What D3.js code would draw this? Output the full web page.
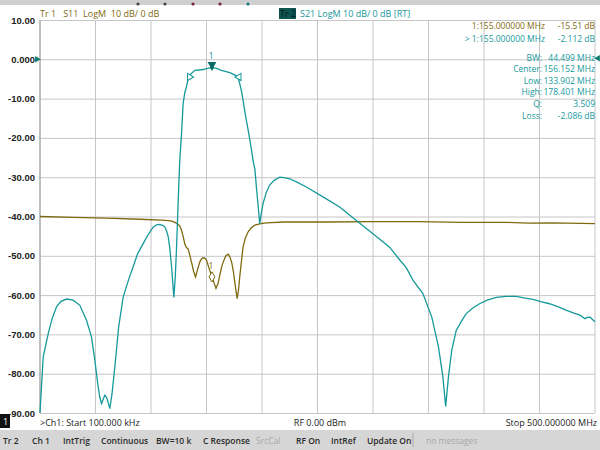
<!DOCTYPE html>
<html>
<head>
<meta charset="utf-8">
<script src="https://cdn.jsdelivr.net/npm/d3@7"></script>
<style>
  body { margin: 0; background: #fff; }
  svg { display: block; font-family: "Open Sans", "DejaVu Sans", sans-serif; }
</style>
</head>
<body>
<svg width="600" height="450"></svg>
<script>
// S21 trace (MHz, dB)
const s21Freq = [0.1, 1.5, 3, 7.5, 11, 15, 19, 24, 30, 36, 42, 46.5, 49.5, 51, 52.5, 54, 55.5, 57, 58.5, 60, 61, 63, 65, 67.5, 71, 75, 80, 84, 88, 93, 98, 102, 105, 108, 111, 112.6, 114, 115.6, 117, 118.6, 120.7, 122, 123, 124.6, 126, 127.6, 129, 130.5, 132, 133.9, 135, 139.6, 147, 151, 155, 159, 163.6, 171, 175, 178.4, 180, 181.5, 183, 185, 187.6, 190, 192, 193.7, 195, 196.5, 198, 199.5, 201, 204, 207, 211, 216, 220, 225, 232, 240, 255, 270, 285, 300, 315, 324, 330, 336, 345, 353, 359, 363, 365.5, 368, 371, 375, 380, 384, 390, 396, 403, 411, 420, 429, 436, 444, 452, 459, 467, 474.5, 481, 486.5, 491, 493, 495.5, 497, 500];
const s21Db = [-90, -83, -75.7, -69.8, -66, -63, -61.6, -61, -61.3, -62.6, -66.4, -70.7, -76.6, -80, -83.4, -86, -87.6, -86.5, -85.5, -86, -86.8, -88.9, -85, -78.3, -68, -60.5, -56, -52.8, -49.5, -46.9, -44.4, -42.7, -42.1, -42, -42.3, -42.7, -43.6, -45.2, -48, -52.8, -60.6, -55, -48.6, -35.9, -25.7, -18.9, -11.3, -8.5, -7, -4.5, -4, -2.8, -2.6, -2.3, -2.11, -2.3, -2.8, -3.4, -3.9, -4.5, -6.2, -8, -10.4, -14, -18, -22, -25.7, -28, -32.5, -37, -41.8, -39, -36.7, -33.8, -32, -30.8, -30, -30.1, -30.4, -31.3, -32.5, -35, -37.6, -41, -44.4, -47.8, -51, -53, -56.2, -59.6, -65.6, -73.2, -80.8, -88.3, -80.8, -74, -69, -66.5, -64.7, -63.3, -62.2, -61.3, -60.6, -60.3, -60.3, -60.7, -61.1, -61.7, -62.2, -63, -63.9, -64.6, -65.1, -66, -65.7, -65.6, -66, -66.8];

// S11 trace (MHz, dB)
const s11Freq = [0.1, 30, 60, 90, 110, 118, 121.6, 124, 126, 127.6, 129, 130.6, 132, 133.6, 135.2, 136.7, 138.5, 140.2, 142, 144, 145.5, 147, 148.5, 150, 153, 156, 158.6, 160.5, 162, 164, 165.8, 167.5, 169.6, 171, 172.7, 174.3, 175.7, 177.7, 179, 180, 181.5, 183, 185, 187.6, 190, 193.7, 199, 204, 220, 260, 300, 340, 380, 420, 440, 460, 500];
const s11Db = [-40, -40.2, -40.4, -40.7, -40.9, -41.1, -41.5, -41.9, -42.4, -43.5, -45, -47.1, -47.9, -48.3, -50, -51.8, -54, -55.4, -53.5, -51.6, -50.8, -50.5, -50.6, -51.1, -53.7, -56.2, -58.3, -57, -55, -52.5, -51.1, -50, -49.6, -50.2, -51.6, -54, -57.1, -60.9, -58.5, -55.4, -51.5, -47.8, -45.5, -43.9, -43, -42.2, -41.8, -41.6, -41.4, -41.4, -41.3, -41.3, -41.5, -41.5, -41.7, -41.6, -41.8];

const yTickValues = [10, 0, -10, -20, -30, -40, -50, -60, -70, -80, -90];
const yTickLabels = ["10.00", "0.000", "-10.00", "-20.00", "-30.00", "-40.00", "-50.00", "-60.00", "-70.00", "-80.00", "-90.00"];

const markerRows = [
  ["1:155.000000 MHz", "-15.51 dB", "s11"],
  ["> 1:155.000000 MHz", "-2.112 dB", "s21"]
];
const bwLabels = ["BW:", "Center:", "Low:", "High:", "Q:", "Loss:"];
const bwValues = ["44.499 MHz", "156.152 MHz", "133.902 MHz", "178.401 MHz", "3.509", "-2.086 dB"];
const bwMarkerFreq = [133.902, 178.401];
const markerFreq = 155;

const statusItems = ["Tr 2", "Ch 1", "IntTrig", "Continuous", "BW=10 k", "C Response", "SrcCal", "RF On", "IntRef", "Update On", "no messages"];
const statusX = [3, 32, 63, 101, 156, 203, 256, 296, 331, 367, 426];

const teal = "#16999a";
const olive = "#7f6a10";

const svg = d3.select("svg");
const plotLeft = 40, plotRight = 595, plotTop = 20, plotBottom = 413;

const x = d3.scaleLinear().domain([0.1, 500]).range([plotLeft, plotRight]);
const y = d3.scaleLinear().domain([-90, 10]).range([plotBottom, plotTop]);

// top strip
svg.append("rect").attr("x", 0).attr("y", 0).attr("width", 600).attr("height", 5).attr("fill", "#cfcfcf");
const dotX = [138, 165, 193, 220, 248];
const dotC = ["#444", "#444", "#7a2040", "#7a2040", "#167a7a"];
svg.selectAll(".dot").data(dotX).enter().append("circle")
  .attr("cx", d => d).attr("cy", 4).attr("r", 1.6)
  .attr("fill", (d, i) => dotC[i]);

// grid
const gridF = d3.range(11).map(i => 0.1 + i * (500 - 0.1) / 10);
svg.append("g").selectAll("line").data(gridF).enter().append("line")
  .attr("x1", d => x(d)).attr("x2", d => x(d))
  .attr("y1", plotTop).attr("y2", plotBottom)
  .attr("stroke", "#c6c6c6").attr("stroke-width", 1);

const yAxis = d3.axisLeft(y).tickValues(yTickValues)
  .tickSize(-(plotRight - plotLeft)).tickPadding(5)
  .tickFormat((d, i) => yTickLabels[i]);
const yg = svg.append("g").attr("transform", `translate(${plotLeft},0)`).call(yAxis);
yg.select(".domain").remove();
yg.selectAll(".tick line").attr("stroke", "#c6c6c6");
yg.selectAll(".tick text").attr("fill", "#222").attr("font-size", 9.5).attr("font-weight", 600);

// left plot border
svg.append("line").attr("x1", plotLeft).attr("x2", plotLeft).attr("y1", plotTop).attr("y2", plotBottom)
  .attr("stroke", "#9a9a9a");

// traces
const line = d3.line().x(d => x(d[0])).y(d => y(d[1]));
svg.append("path").datum(d3.zip(s11Freq, s11Db))
  .attr("d", line).attr("fill", "none").attr("stroke", olive).attr("stroke-width", 1.3);
svg.append("path").datum(d3.zip(s21Freq, s21Db))
  .attr("d", line).attr("fill", "none").attr("stroke", teal).attr("stroke-width", 1.3);

// reference arrows
svg.append("path").attr("d", d3.symbol(d3.symbolTriangle, 18)())
  .attr("transform", `translate(${plotLeft - 3},${y(0)}) rotate(90)`).attr("fill", "#0f7a70");
svg.append("path").attr("d", d3.symbol(d3.symbolTriangle, 18)())
  .attr("transform", `translate(${plotRight + 3},${y(0) - 1}) rotate(-90)`).attr("fill", "#0f7a70");

// markers
const interp = (fs, ds, f) => {
  const i = d3.bisectLeft(fs, f);
  const t = (f - fs[i - 1]) / (fs[i] - fs[i - 1]);
  return ds[i - 1] + t * (ds[i] - ds[i - 1]);
};
const m21 = -2.112;
svg.append("path").attr("d", d3.symbol(d3.symbolTriangle, 34)())
  .attr("transform", `translate(${x(markerFreq)},${y(m21) - 3}) rotate(180)`)
  .attr("fill", "#0c6b66");
svg.append("path").attr("d", d3.symbol(d3.symbolDiamond, 14)())
  .attr("transform", `translate(${x(markerFreq)},${y(m21)})`)
  .attr("fill", "#0c6b66");
svg.append("text").attr("x", x(markerFreq) - 1).attr("y", y(m21) - 9)
  .attr("fill", teal).attr("font-size", 9).attr("text-anchor", "middle").text("1");

bwMarkerFreq.forEach((f, i) => {
  svg.append("path").attr("d", d3.symbol(d3.symbolTriangle, 22)())
    .attr("transform", `translate(${x(f) + 1},${y(interp(s21Freq, s21Db, f))}) rotate(${i ? 30 : -30})`)
    .attr("fill", "#fff").attr("stroke", teal).attr("stroke-width", 1);
});

const m11 = interp(s11Freq, s11Db, markerFreq);
svg.append("path").attr("d", d3.symbol(d3.symbolDiamond, 30)())
  .attr("transform", `translate(${x(markerFreq)},${y(m11)})`)
  .attr("fill", "#fff").attr("stroke", olive).attr("stroke-width", 1);
svg.append("text").attr("x", x(markerFreq) - 1).attr("y", y(m11) - 8)
  .attr("fill", olive).attr("font-size", 8.5).attr("text-anchor", "middle").text("1");

// trace headers
svg.append("text").attr("x", 40).attr("y", 17).attr("font-size", 9).attr("fill", olive)
  .attr("xml:space", "preserve").text("Tr 1   S11  LogM  10 dB/ 0 dB");
svg.append("rect").attr("x", 279).attr("y", 8).attr("width", 17).attr("height", 11).attr("fill", "#0d5450");
svg.append("text").attr("x", 280).attr("y", 17).attr("font-size", 9).attr("fill", "#031c1a").text("Tr 2");
svg.append("text").attr("x", 300).attr("y", 17).attr("font-size", 9).attr("fill", teal)
  .text("S21 LogM  10 dB/ 0 dB [RT]");

// marker readout
const rowY = [29, 42];
markerRows.forEach((r, i) => {
  const c = r[2] === "s11" ? olive : teal;
  svg.append("text").attr("x", 545).attr("y", rowY[i]).attr("text-anchor", "end")
    .attr("font-size", 8.5).attr("fill", c).text(r[0]);
  svg.append("text").attr("x", 595).attr("y", rowY[i]).attr("text-anchor", "end")
    .attr("font-size", 8.5).attr("fill", c).text(r[1]);
});
const bwY = [61, 72, 84, 95, 107, 119];
bwLabels.forEach((l, i) => {
  svg.append("text").attr("x", 542).attr("y", bwY[i]).attr("text-anchor", "end")
    .attr("font-size", 8.5).attr("fill", teal).text(l);
  svg.append("text").attr("x", 595).attr("y", bwY[i]).attr("text-anchor", "end")
    .attr("font-size", 8.5).attr("fill", teal).text(bwValues[i]);
});

// channel line
svg.append("rect").attr("x", 0).attr("y", 414).attr("width", 10).attr("height", 14).attr("fill", "#111");
svg.append("text").attr("x", 3).attr("y", 425).attr("font-size", 9).attr("fill", "#fff").text("1");
svg.append("text").attr("x", 40).attr("y", 426).attr("font-size", 9).attr("fill", "#222").text(">Ch1: Start 100.000 kHz");
svg.append("text").attr("x", 320).attr("y", 426).attr("font-size", 9).attr("fill", "#222").attr("text-anchor", "middle").text("RF 0.00 dBm");
svg.append("text").attr("x", 597).attr("y", 426).attr("font-size", 9).attr("fill", "#222").attr("text-anchor", "end").text("Stop 500.000000 MHz");

// status bar
svg.append("rect").attr("x", 0).attr("y", 430).attr("width", 600).attr("height", 20).attr("fill", "#d6d6d6");
svg.selectAll(".status").data(statusItems).enter().append("text")
  .attr("x", (d, i) => statusX[i]).attr("y", 444)
  .attr("font-size", 8.5)
  .attr("fill", d => (d === "SrcCal" || d === "no messages") ? "#a8a8a8" : "#2a2a2a")
  .attr("font-weight", d => (d === "SrcCal" || d === "no messages") ? 400 : 600)
  .text(d => d);
svg.append("line").attr("x1", 413).attr("x2", 413).attr("y1", 433).attr("y2", 447).attr("stroke", "#aaa");
</script>
</body>
</html>
